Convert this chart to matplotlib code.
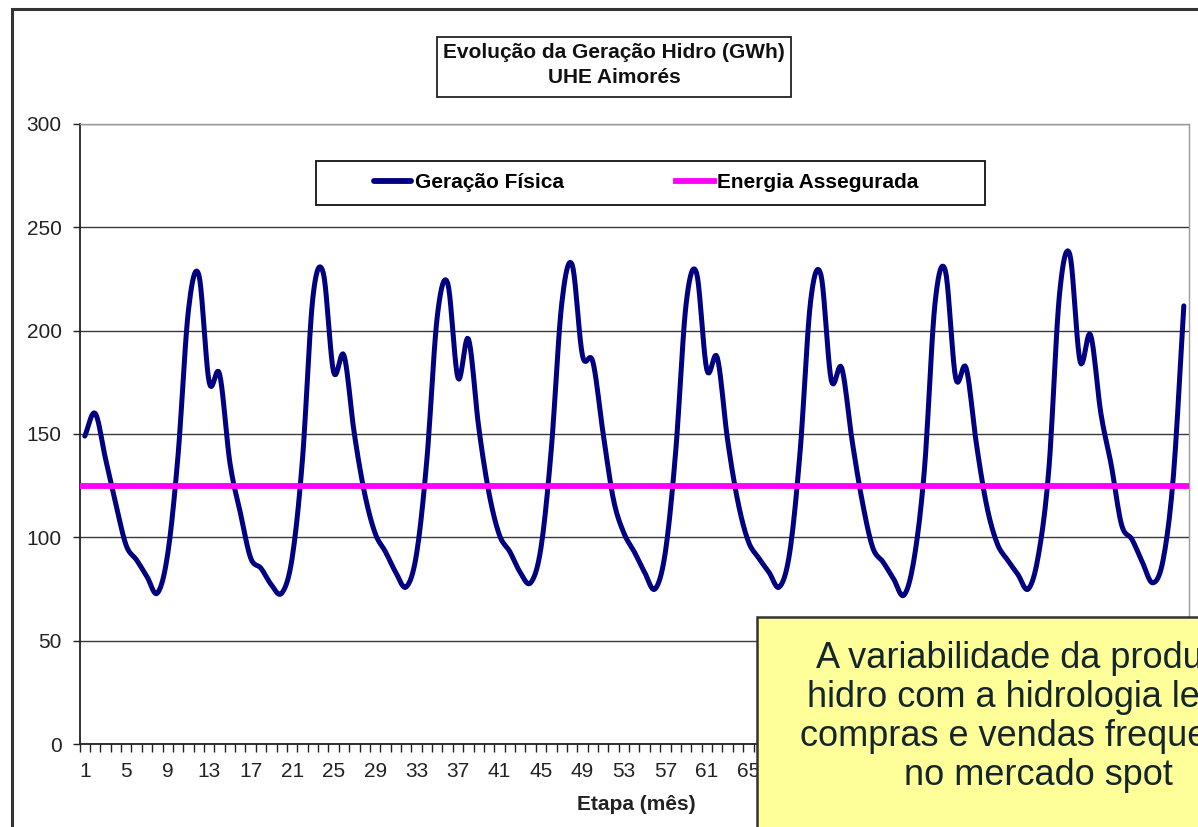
import numpy as np
import matplotlib
matplotlib.use('Agg')
import matplotlib.pyplot as plt
from matplotlib.patches import Rectangle

plt.rcParams['font.family'] = ['Liberation Sans', 'DejaVu Sans']

# dados (GWh por mes)
meses = list(range(1, 108))
geracao_fisica = [
    149, 160, 138, 116, 96, 89, 81, 73, 92, 140, 210, 227,
    175, 179, 136, 112, 90, 85, 77, 73, 90, 138, 216, 228,
    180, 188, 150, 121, 102, 93, 83, 76, 92, 138, 207, 223,
    177, 196, 153, 121, 101, 93, 83, 78, 95, 143, 213, 232,
    188, 185, 150, 118, 102, 93, 83, 75, 93, 142, 213, 228,
    181, 187, 147, 117, 98, 90, 83, 76, 93, 142, 214, 227,
    176, 182, 147, 117, 95, 88, 80, 72, 90, 134, 213, 229,
    177, 182, 145, 115, 97, 89, 82, 75, 92, 134, 217, 237,
    185, 198, 160, 135, 106, 99, 88, 78, 89, 130, 212,
]
energia_assegurada = [125] * len(meses)
series_nomes = ['Geração Física', 'Energia Assegurada']
series_cores = ['#000080', '#FF00FF']
yticks = [0, 50, 100, 150, 200, 250, 300]
xtick_labels = list(range(1, 108, 4))

W, H = 1198, 827


def fx(px):
    return px / W


def fy(py):
    return 1 - py / H


# curva suavizada tipo Excel (Bezier / Catmull-Rom)
def suavizar(x, y, n=10):
    out = []
    t = np.linspace(0, 1, n, endpoint=False)[:, None]
    for p in (np.asarray(x, float), np.asarray(y, float)):
        p = np.concatenate([[2 * p[0] - p[1]], p, [2 * p[-1] - p[-2]]])
        p0, p1, p2, p3 = p[:-3], p[1:-2], p[2:-1], p[3:]
        c1 = p1 + (p2 - p0) / 6
        c2 = p2 - (p3 - p1) / 6
        b = ((1 - t) ** 3 * p1 + 3 * (1 - t) ** 2 * t * c1
             + 3 * (1 - t) * t ** 2 * c2 + t ** 3 * p2)
        out.append(np.append(b.T.ravel(), p[-2]))
    return out[0], out[1]


fig = plt.figure(figsize=(W / 100, H / 100), dpi=100)
fig.patch.set_facecolor('white')
ax = fig.add_axes([fx(79.6), fy(744), fx(1189) - fx(79.6), fy(124) - fy(744)])

sx, sy = suavizar(meses, geracao_fisica)
l1, = ax.plot(sx, sy, color=series_cores[0], lw=3.6, solid_capstyle='round',
              label=series_nomes[0], zorder=3)
l2, = ax.plot([meses[0] - 0.5, meses[-1] + 0.5], [energia_assegurada[0], energia_assegurada[-1]],
              color=series_cores[1], lw=4.2, label=series_nomes[1], zorder=4)

ax.set_xlim(0.5, len(meses) + 0.5)
ax.set_ylim(0, 300)
ax.set_yticks(yticks)
ax.yaxis.grid(True, color='#3a3a3a', lw=1.0)
ax.set_axisbelow(True)

ax.set_xticks(xtick_labels)
ax.set_xticklabels([str(v) for v in xtick_labels])
ax.set_xticks(np.arange(0.5, len(meses) + 1, 1), minor=True)
ax.tick_params(axis='x', which='major', length=0, pad=13, labelsize=15, colors='#222222')
ax.tick_params(axis='x', which='minor', length=6, width=1, direction='out', color='#222222')
ax.tick_params(axis='y', length=5, width=1, pad=8, labelsize=15, colors='#222222')

# rotulos escondidos pela caixa de comentario
for v, lab in zip(xtick_labels, ax.get_xticklabels()):
    if v > 66:
        lab.set_visible(False)

for s in ['left', 'bottom']:
    ax.spines[s].set_color('#222222')
    ax.spines[s].set_linewidth(1.3)
for s in ['top', 'right']:
    ax.spines[s].set_color('#9a9a9a')
    ax.spines[s].set_linewidth(1.0)

fig.text(fx(636), fy(805), 'Etapa (mês)', ha='center', va='center',
         fontsize=15, fontweight='bold', color='#222222')

# titulo em caixa
fig.patches.append(Rectangle((fx(437), fy(97)), fx(791) - fx(437), fy(37) - fy(97),
                             transform=fig.transFigure, fill=False, ec='#222222', lw=1.3))
fig.text(fx(614), fy(65), 'Evolução da Geração Hidro (GWh)\nUHE Aimorés', ha='center',
         va='center', fontsize=15, fontweight='bold', color='#111111', linespacing=1.4)

# legenda
fig.patches.append(Rectangle((fx(316), fy(205)), fx(985) - fx(316), fy(161) - fy(205),
                             transform=fig.transFigure, fc='white', ec='#111111', lw=1.3,
                             zorder=5))
leg = fig.legend(handles=[l1, l2], loc='center', bbox_to_anchor=(fx(646), fy(183)),
                 bbox_transform=fig.transFigure, ncol=2, frameon=False,
                 prop={'size': 15, 'weight': 'bold'}, handlelength=1.8,
                 handletextpad=0.15, columnspacing=5.4)
leg.set_zorder(6)
for h in leg.legend_handles:
    h.set_linewidth(4.2)

# moldura externa
fig.patches.append(Rectangle((fx(12), fy(840)), fx(1220) - fx(12), fy(9) - fy(840),
                             transform=fig.transFigure, fill=False, ec='#333333', lw=2.2))

# caixa de comentario
fig.patches.append(Rectangle((fx(757), fy(840)), fx(1260) - fx(757), fy(617) - fy(840),
                             transform=fig.transFigure, fc='#FFFF99', ec='#333333', lw=1.8,
                             zorder=10))
fig.text(fx(1038), fy(717), 'A variabilidade da produção\nhidro com a hidrologia leva a\n'
         'compras e vendas frequentes\nno mercado spot', ha='center', va='center',
         fontsize=26, color='#14262a', linespacing=1.15, zorder=11)

fig.savefig('out.png', dpi=100)
